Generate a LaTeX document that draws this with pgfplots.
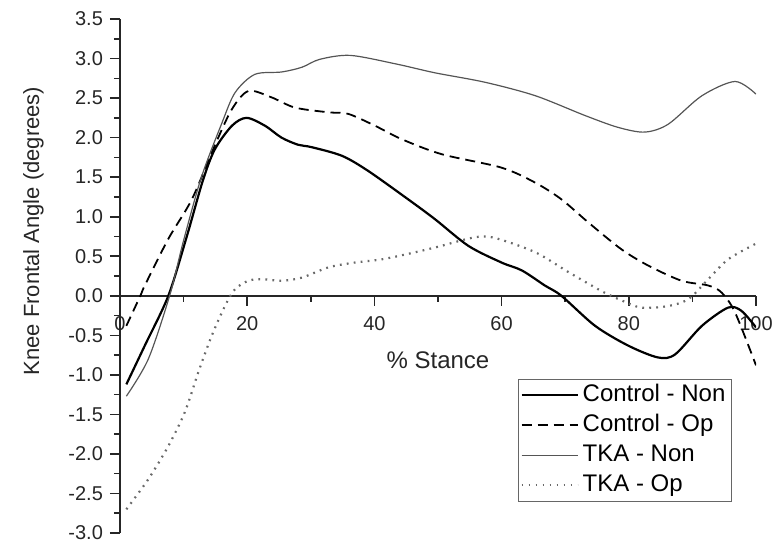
\documentclass[border=0pt]{standalone}
\usepackage{pgfplots}
\pgfplotsset{compat=1.18}
\usepackage{fontspec}
\setmainfont{Liberation Sans}

\definecolor{tkanon}{RGB}{85,85,85}
\definecolor{tkaop}{RGB}{105,105,105}

\begin{document}
\begin{tikzpicture}
\useasboundingbox (-60pt,-7pt) rectangle (327.5pt,266.5pt);
\begin{axis}[
  scale only axis,
  width=318pt, height=257pt,
  xmin=0, xmax=100, ymin=-3.0, ymax=3.5,
  axis x line=middle, axis y line=left,
  axis line style={-, line width=0.9pt, black!85},
  hide obscured x ticks=false, hide obscured y ticks=false,
  tick align=outside,
  xtick={0,20,40,60,80,100},
  minor x tick num=1,
  ytick={-3,-2.5,...,3.5},
  minor y tick num=1,
  major tick length=5pt, minor tick length=3pt,
  tick style={line width=0.8pt, black!85},
  /pgf/number format/assume math mode=true,
  tick label style={font=\fontsize{10}{12}\selectfont, black!85},
  yticklabel style={/pgf/number format/fixed, /pgf/number format/fixed zerofill, /pgf/number format/precision=1},
  xticklabel style={yshift=-2pt},
  xlabel={\% Stance},
  xlabel style={at={(axis cs:50,-0.82)}, anchor=center, font=\fontsize{12}{14}\selectfont, black!85},
  ylabel={Knee Frontal Angle (degrees)},
  ylabel style={at={(axis cs:-13.6,0.82)}, anchor=center, font=\fontsize{11}{13}\selectfont, black!85},
  legend style={at={(axis cs:96.2,-1.05)}, anchor=north east, draw=black!60,
    font=\fontsize{12}{14}\selectfont, inner xsep=1pt, inner ysep=0.5pt,
    nodes={text height=8.6pt, text depth=2.4pt, inner sep=2pt}},
  legend cell align=left,
  legend image code/.code={\draw[#1] (0pt,0pt) -- (28pt,0pt);},
]
\addplot [black, line width=1.1pt, smooth] table {
1 -1.12
3.9 -0.63
7.6 0
10.5 0.75
13 1.45
14.9 1.85
17.6 2.15
19.9 2.25
22.8 2.15
25.4 2.0
28 1.91
30.1 1.88
34.9 1.77
39.0 1.58
45.3 1.22
49.5 0.97
54.8 0.63
60.0 0.42
63.2 0.32
66.8 0.13
69.4 0
74.7 -0.38
79.9 -0.63
84.6 -0.78
87.3 -0.74
91.5 -0.38
95.6 -0.15
97.7 -0.19
100 -0.40
};
\addlegendentry{Control - Non}
\addplot [black, line width=0.9pt, dash pattern=on 5pt off 3pt, smooth] table {
1 -0.38
3.2 0
3.9 0.13
7.6 0.72
11.3 1.22
14.9 1.90
17.6 2.36
20.2 2.59
23.8 2.51
27.5 2.38
32.8 2.32
35.9 2.30
40.1 2.15
44.3 1.98
50.6 1.79
60.0 1.62
65.3 1.43
69.4 1.22
73.6 0.93
78.8 0.59
83.1 0.38
88.3 0.19
92.5 0.13
94.6 0.04
96.7 -0.21
100 -0.88
};
\addlegendentry{Control - Op}
\addplot [tkanon, line width=0.6pt, smooth] table {
1 -1.27
4.45 -0.8
7.8 0
10 0.7
12.8 1.5
16.0 2.18
18.1 2.57
21.2 2.80
25.4 2.83
28.6 2.89
31.4 2.99
36.2 3.04
43.5 2.93
49.5 2.82
57.4 2.70
65.3 2.53
73.1 2.28
78.3 2.13
82.5 2.07
86.2 2.17
91.5 2.53
96.7 2.71
100 2.55
};
\addlegendentry{TKA - Non}
\addplot [tkaop, line width=1.1pt, dash pattern=on 0.9pt off 2.6pt, smooth] table {
1 -2.70
4.45 -2.32
7.6 -1.90
10.2 -1.47
12.3 -0.97
14.4 -0.51
16.5 -0.13
18.1 0.085
20.2 0.19
22.3 0.21
25.4 0.19
28.6 0.23
32.8 0.36
36.9 0.42
41.1 0.46
45.3 0.53
50 0.62
55.8 0.74
59.0 0.73
65.3 0.55
70.5 0.30
75.7 0.06
78.9 -0.06
82.0 -0.15
86.2 -0.13
89.4 -0.04
92.5 0.21
95.6 0.46
100 0.66
};
\addlegendentry{TKA - Op}
\end{axis}
\end{tikzpicture}
\end{document}
